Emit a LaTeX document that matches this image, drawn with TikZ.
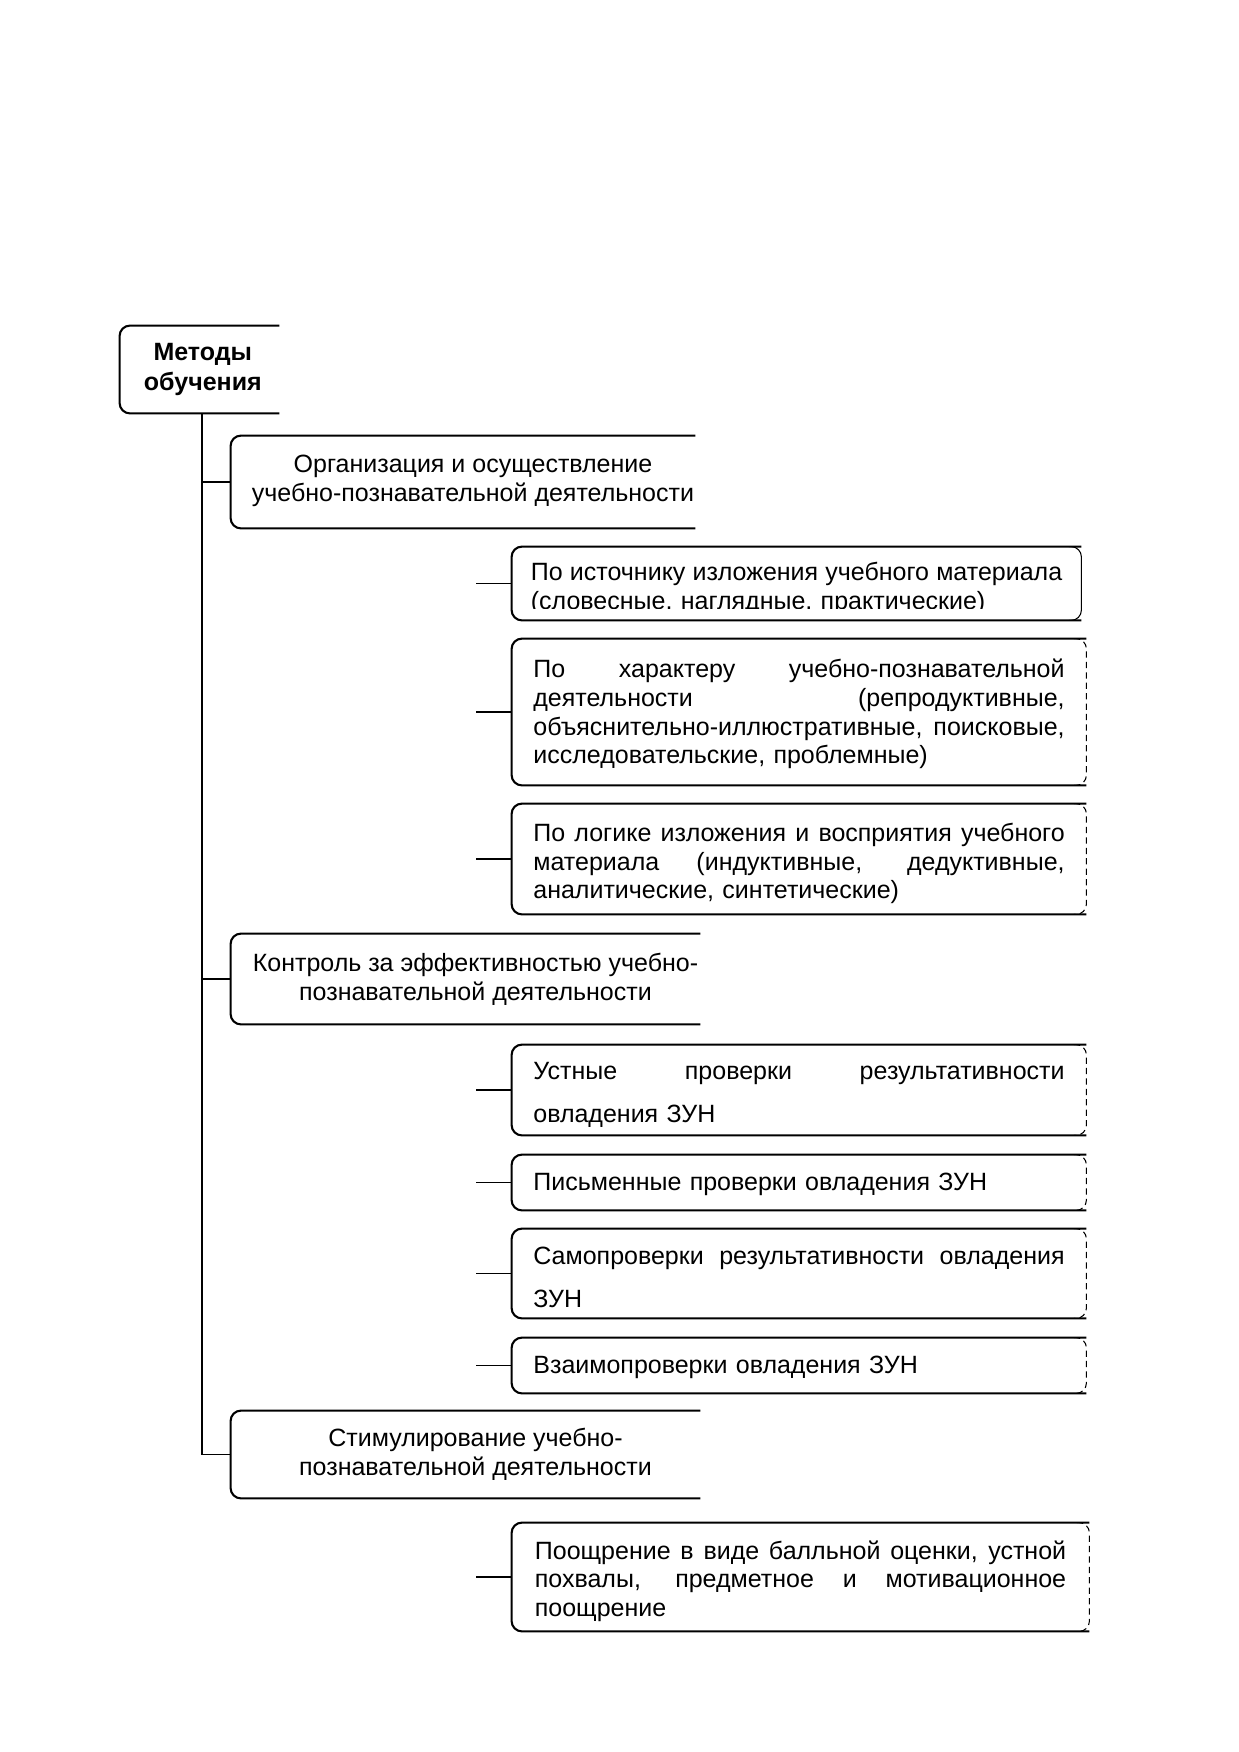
\documentclass[tikz,border=0pt]{standalone}
\usepackage{fontspec}
\setmainfont{Liberation Sans}
\newlength\tw \setlength\tw{255pt}
\newcommand\jl[1]{\leavevmode\hbox to \tw{\spaceskip=\fontdimen2\font plus 1fil\relax #1}}
\newcommand\openbox[1]{\draw[bline] (#1.north east) -- (#1.north west) -- (#1.south west) -- (#1.south east);}
\newcommand\rightside[2][densely dashed]{\draw[rside,#1] ([xshift=-6pt]#2.north east) -- (#2.north east) -- (#2.south east) -- ([xshift=-6pt]#2.south east);}
\begin{document}
\begin{tikzpicture}[x=0.48pt,y=-0.48pt,
  sz/.style 2 args={minimum width=#1*0.48pt,minimum height=#2*0.48pt},
  frame/.style={inner sep=0pt},
  sbox/.style={inner sep=0pt, text width=\tw, align=left, font=\fontsize{12pt}{13.8pt}\selectfont},
  wbox/.style={inner sep=0pt, text width=\tw, align=left, font=\fontsize{12pt}{20.6pt}\selectfont},
  lbox/.style={inner sep=0pt, align=center, font=\fontsize{12pt}{13.8pt}\selectfont},
  rootbox/.style={inner sep=0pt, align=center, font=\bfseries\fontsize{12pt}{14.4pt}\selectfont},
  bline/.style={line width=1pt, rounded corners=5pt},
  rside/.style={line width=0.5pt, rounded corners=5pt},
  conn/.style={line width=0.7pt}]
\fill[white] (0,0) rectangle (1239,1752);
\useasboundingbox (0,0) rectangle (1239,1752);

% frames
\node[frame, sz={159}{87}] (root) at (199.5,369.5) {};
\node[frame, sz={464}{92}] (L1) at (463,482) {};
\node[frame, sz={569}{73}] (S1) at (796.5,583.5) {};
\node[frame, sz={574}{146}] (S2) at (799,712) {};
\node[frame, sz={574}{110}] (S3) at (799,859) {};
\node[frame, sz={469}{90}] (L2) at (465.5,979) {};
\node[frame, sz={574}{90}] (S4) at (799,1090) {};
\node[frame, sz={574}{55}] (S5) at (799,1182.5) {};
\node[frame, sz={574}{89}] (S6) at (799,1273.5) {};
\node[frame, sz={574}{55}] (S7) at (799,1365.5) {};
\node[frame, sz={469}{87}] (L3) at (465.5,1454.5) {};
\node[frame, sz={577}{108}] (S8) at (800.5,1577) {};

% texts
\node[rootbox] (roott) at ([xshift=1.6pt]root.center) {Методы\\обучения};
\node[lbox] (L1t) at ([xshift=4.8pt,yshift=0.5pt]L1.center) {Организация и осуществление\\учебно-познавательной деятельности};
\begin{scope}
\clip (500,540) rectangle (1100,608);
\node[sbox] (S1t) at ([yshift=-2.5pt]S1.center) {\jl{По источнику изложения учебного материала}\\(словесные, наглядные, практические)};
\end{scope}
\node[sbox] (S2t) at ([yshift=-1pt]S2.center) {\jl{По характеру учебно-познавательной}\\\jl{деятельности (репродуктивные,}\\\jl{объяснительно-иллюстративные, поисковые,}\\исследовательские, проблемные)};
\node[sbox] (S3t) at ([yshift=-2.2pt]S3.center) {\jl{По логике изложения и восприятия учебного}\\\jl{материала (индуктивные, дедуктивные,}\\аналитические, синтетические)};
\node[lbox] (L2t) at ([xshift=4.8pt]L2.center) {Контроль за эффективностью учебно-\\познавательной деятельности};
\node[wbox] (S4t) at ([yshift=-2.2pt]S4.center) {\jl{Устные проверки результативности}\\овладения ЗУН};
\node[sbox] (S5t) at ([yshift=-1pt]S5.center) {Письменные проверки овладения ЗУН};
\node[wbox] (S6t) at ([yshift=-2pt]S6.center) {\jl{Самопроверки результативности овладения}\\ЗУН};
\node[sbox] (S7t) at ([yshift=-1pt]S7.center) {Взаимопроверки овладения ЗУН};
\node[lbox] (L3t) at ([xshift=4.8pt]L3.center) {Стимулирование учебно-\\познавательной деятельности};
\node[sbox] (S8t) at ([yshift=-2pt]S8.center) {\jl{Поощрение в виде балльной оценки, устной}\\\jl{похвалы, предметное и мотивационное}\\поощрение};

\foreach \n in {root,L1,L2,L3,S1,S2,S3,S4,S5,S6,S7,S8} {\openbox{\n}}
\rightside[solid]{S1}
\foreach \n in {S2,S3,S4,S5,S6,S7,S8} {\rightside{\n}}

\draw[conn] ([xshift=1.2pt]root.south) |- (L3.west);
\draw[conn] ([xshift=1.2pt]root.south |- L1.west) -- (L1.west);
\draw[conn] ([xshift=1.2pt]root.south |- L2.west) -- (L2.west);
\foreach \n in {S1,S2,S3,S4,S5,S6,S7,S8} {\draw[conn] (\n.west) -- ++(-36,0);}
\end{tikzpicture}
\end{document}
